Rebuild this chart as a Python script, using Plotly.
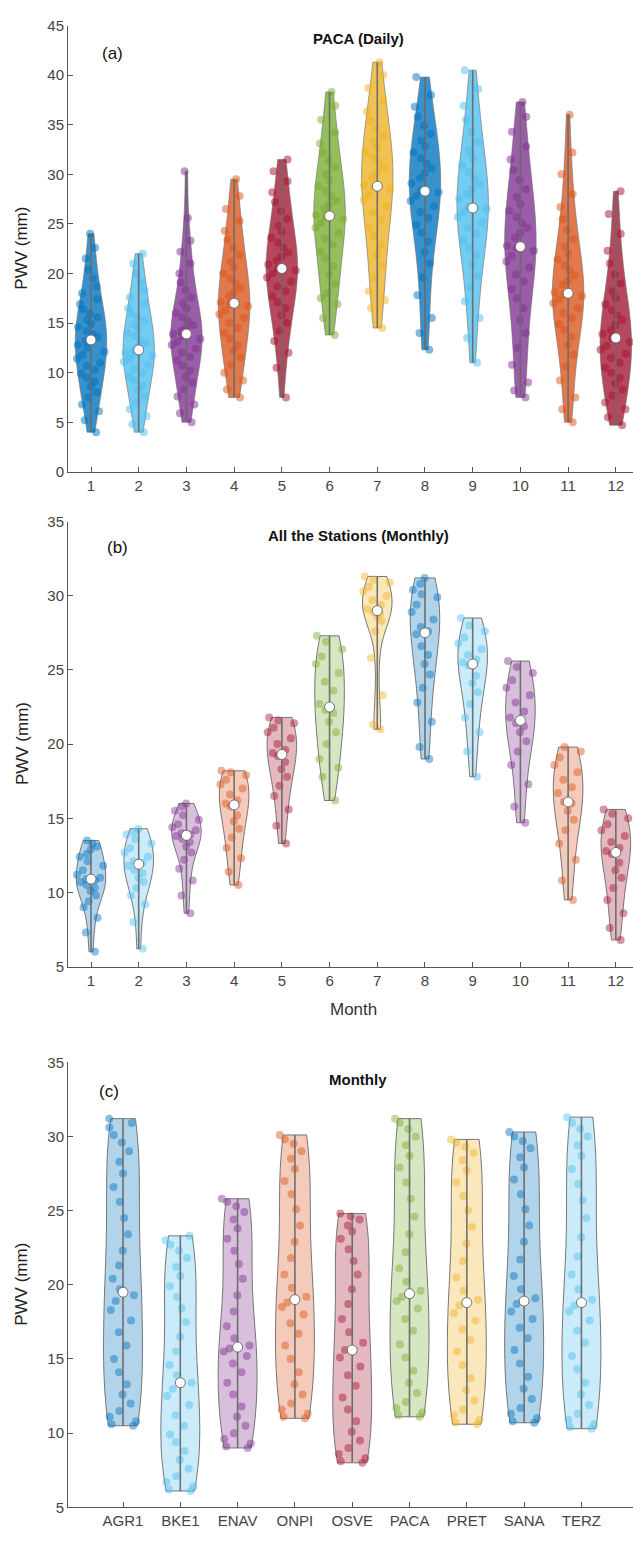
import numpy as np
import plotly.graph_objects as go

W, H = 633, 1544
ML = 68  # left margin in px

# ---------------- categories ----------------
months = list(range(1, 13))
month_labels = [str(m) for m in months]
stations = ["AGR1", "BKE1", "ENAV", "ONPI", "OSVE", "PACA", "PRET", "SANA", "TERZ"]
station_pos = list(range(1, 10))

# ---------------- panel (a): PACA daily PWV (mm) ----------------
daily_m01 = [4.0, 5.2, 6.1, 6.8, 7.5, 8.0, 8.6, 9.1, 9.5, 9.9, 10.3, 10.7, 11.0, 11.4, 11.8, 12.1, 12.5, 12.8, 13.2, 13.4,
             13.6, 13.9, 14.2, 14.6, 14.9, 15.3, 15.6, 16.0, 16.4, 16.9, 17.4, 18.0, 18.7, 19.5, 20.4, 21.5, 22.6, 24.0]
daily_m02 = [4.0, 4.8, 5.6, 6.3, 7.0, 7.6, 8.2, 8.7, 9.2, 9.6, 10.0, 10.4, 10.8, 11.1, 11.4, 11.7, 11.85, 12.0, 12.3,
             12.7, 13.0, 13.3, 13.7, 14.0, 14.4, 14.8, 15.2, 15.6, 16.0, 16.5, 17.0, 17.6, 18.3, 19.1, 20.0, 21.0, 22.0]
daily_m03 = [5.0, 5.9, 6.8, 7.6, 8.3, 9.0, 9.6, 10.2, 10.7, 11.2, 11.6, 12.0, 12.4, 12.8, 13.1, 13.4, 13.7, 13.9, 14.2,
             14.5, 14.8, 15.2, 15.6, 16.0, 16.5, 17.0, 17.6, 18.3, 19.1, 20.0, 21.0, 22.2, 23.3, 25.6, 30.3]
daily_m04 = [7.5, 8.3, 9.2, 10.0, 10.8, 11.5, 12.2, 12.8, 13.4, 14.0, 14.5, 15.0, 15.5, 15.9, 16.3, 16.7, 16.9, 17.1,
             17.7, 18.1, 18.5, 19.0, 19.5, 20.0, 20.6, 21.2, 21.9, 22.6, 23.4, 24.3, 25.3, 26.5, 27.8, 29.5]
daily_m05 = [7.5, 10.5, 12.0, 13.2, 14.2, 15.0, 15.8, 16.5, 17.1, 17.7, 18.2, 18.7, 19.2, 19.6, 20.0, 20.3, 20.5, 20.9,
             21.3, 21.7, 22.1, 22.6, 23.1, 23.6, 24.2, 24.8, 25.5, 26.3, 27.2, 28.2, 29.3, 30.3, 31.5]
daily_m06 = [13.8, 15.5, 16.9, 17.5, 18.0, 19.0, 19.9, 20.7, 21.5, 22.2, 22.9, 23.5, 24.1, 24.6, 25.1, 25.5, 25.7, 25.9,
             26.5, 26.9, 27.3, 27.8, 28.3, 28.8, 29.4, 30.0, 30.7, 31.4, 32.2, 33.1, 34.2, 35.5, 36.9, 38.3]
daily_m07 = [14.5, 16.5, 17.3, 18.2, 19.6, 20.8, 21.9, 22.9, 23.8, 24.6, 25.4, 26.1, 26.8, 27.4, 28.0, 28.5, 28.7, 28.9,
             29.7, 30.2, 30.7, 31.2, 31.7, 32.2, 32.7, 33.3, 33.9, 34.6, 35.4, 36.3, 37.4, 38.7, 40.0, 41.3]
daily_m08 = [12.3, 14.0, 15.5, 17.8, 19.6, 21.0, 22.2, 23.2, 24.1, 24.9, 25.6, 26.2, 26.8, 27.3, 27.8, 28.2, 28.4, 29.1,
             29.6, 30.1, 30.6, 31.1, 31.6, 32.2, 32.8, 33.4, 34.1, 34.9, 35.8, 36.8, 38.0, 39.8]
daily_m09 = [11.0, 13.5, 15.5, 17.2, 18.6, 19.8, 20.9, 21.8, 22.6, 23.3, 24.0, 24.6, 25.2, 25.7, 26.2, 26.5, 26.7, 27.5,
             28.0, 28.5, 29.0, 29.6, 30.2, 30.9, 31.6, 32.4, 33.3, 34.3, 35.5, 36.9, 38.6, 40.5]
daily_m10 = [7.5, 8.2, 9.0, 10.8, 12.5, 14.0, 15.3, 16.5, 17.5, 18.4, 19.2, 19.9, 20.6, 21.2, 21.8, 22.3, 22.6, 22.8,
             23.6, 24.1, 24.6, 25.1, 25.7, 26.3, 27.0, 27.7, 28.5, 29.4, 30.4, 31.5, 32.8, 34.3, 35.8, 37.3]
daily_m11 = [5.0, 6.3, 7.5, 9.2, 10.6, 11.8, 12.8, 13.6, 14.3, 14.9, 15.5, 16.0, 16.5, 17.0, 17.4, 17.7, 17.9, 18.1,
             18.9, 19.3, 19.8, 20.3, 20.8, 21.4, 22.0, 22.7, 23.5, 24.4, 25.5, 26.7, 28.0, 30.0, 32.2, 36.0]
daily_m12 = [4.7, 5.5, 6.3, 7.0, 7.7, 8.3, 8.9, 9.5, 10.0, 10.5, 11.0, 11.5, 11.9, 12.3, 12.7, 13.1, 13.5, 13.9, 14.3,
             14.8, 15.3, 15.8, 16.3, 16.9, 17.5, 18.2, 19.0, 19.9, 21.0, 22.3, 24.0, 26.0, 28.3]

# ---------------- panel (b): all stations, monthly PWV (mm) ----------------
monthly_m01 = [6.0, 7.3, 8.3, 9.0, 9.4, 9.8, 10.1, 10.3, 10.5, 10.7, 10.8, 10.9, 11.0, 11.2, 11.5, 11.8, 12.1, 12.4,
               12.6, 12.9, 13.1, 13.3, 13.5]
monthly_m02 = [6.2, 8.0, 9.2, 9.8, 10.3, 10.7, 11.0, 11.3, 11.5, 11.8, 12.0, 12.1, 12.4, 12.7, 13.0, 13.3, 13.6, 13.9,
               14.1, 14.3]
monthly_m03 = [8.6, 9.8, 10.8, 11.6, 12.2, 12.7, 13.1, 13.4, 13.6, 13.8, 13.9, 14.0, 14.2, 14.4, 14.6, 14.9, 15.2,
               15.5, 15.8, 16.0]
monthly_m04 = [10.5, 11.4, 12.3, 13.0, 13.7, 14.3, 14.8, 15.2, 15.8, 16.0, 16.2, 16.6, 17.0, 17.3, 17.6, 17.9, 18.1,
               18.2]
monthly_m05 = [13.3, 14.5, 15.6, 16.5, 17.2, 17.8, 18.3, 18.8, 19.2, 19.4, 19.6, 20.0, 20.4, 20.8, 21.1, 21.4, 21.6,
               21.8]
monthly_m06 = [16.2, 17.8, 18.4, 19.0, 20.0, 20.8, 21.5, 22.1, 22.3, 22.7, 23.6, 24.2, 24.8, 25.4, 25.9, 26.4, 26.9,
               27.3]
monthly_m07 = [21.0, 21.3, 23.3, 25.8, 27.6, 28.3, 28.6, 28.8, 28.9, 29.1, 29.4, 29.7, 30.0, 30.3, 30.6, 30.9, 31.1,
               31.3]
monthly_m08 = [19.0, 19.8, 21.5, 22.8, 23.8, 24.7, 25.4, 26.0, 26.6, 27.4, 27.6, 27.9, 28.4, 28.9, 29.4, 29.9, 30.1,
               30.4, 30.8, 31.2]
monthly_m09 = [17.8, 19.5, 20.8, 21.8, 22.7, 23.5, 24.1, 24.6, 25.3, 25.5, 25.7, 26.0, 26.4, 26.8, 27.2, 27.6, 28.0,
               28.5]
monthly_m10 = [14.7, 15.8, 17.3, 18.6, 19.5, 20.2, 20.8, 21.2, 21.4, 21.8, 22.2, 22.8, 23.3, 23.8, 24.3, 24.8, 25.2,
               25.6]
monthly_m11 = [9.5, 10.8, 12.2, 13.3, 14.2, 14.9, 15.5, 16.0, 16.1, 16.7, 17.1, 17.6, 18.1, 18.6, 19.1, 19.5, 19.8]
monthly_m12 = [6.8, 7.6, 8.6, 9.5, 10.3, 11.0, 11.5, 12.0, 12.6, 12.8, 13.0, 13.4, 13.8, 14.2, 14.6, 15.0, 15.3, 15.6]

# ---------------- panel (c): monthly PWV (mm) per station ----------------
st_agr1 = [10.5, 10.6, 10.8, 11.1, 11.5, 12.0, 12.6, 13.3, 14.1, 15.0, 15.9, 16.8, 17.6, 18.3, 18.9, 19.3, 19.7, 20.4,
           21.3, 22.3, 23.4, 24.5, 25.6, 26.6, 27.5, 28.3, 29.0, 29.6, 30.1, 30.6, 30.9, 31.2]
st_bke1 = [6.1, 6.2, 6.4, 6.7, 7.1, 7.6, 8.2, 8.8, 9.4, 9.9, 10.5, 11.2, 11.9, 12.5, 13.0, 13.4, 13.9, 14.6, 15.5,
           16.5, 17.5, 18.4, 19.2, 19.9, 20.6, 21.2, 21.8, 22.3, 22.7, 23.0, 23.3]
st_enav = [9.0, 9.1, 9.3, 9.6, 10.0, 10.5, 11.1, 11.8, 12.6, 13.4, 14.1, 14.7, 15.2, 15.5, 15.7, 15.9, 16.4, 17.2,
           18.2, 19.3, 20.4, 21.4, 22.3, 23.1, 23.8, 24.4, 24.9, 25.3, 25.6, 25.8]
st_onpi = [11.0, 11.1, 11.3, 11.6, 12.0, 12.6, 13.3, 14.1, 15.0, 15.9, 16.7, 17.4, 18.0, 18.5, 18.8, 19.2, 19.8, 20.7,
           21.8, 22.9, 24.0, 25.1, 26.1, 27.0, 27.8, 28.5, 29.0, 29.5, 29.8, 30.1]
st_osve = [8.0, 8.1, 8.3, 8.6, 9.0, 9.5, 10.1, 10.8, 11.6, 12.4, 13.2, 13.9, 14.5, 15.1, 15.6, 16.1, 16.8, 17.7,
           18.7, 19.7, 20.7, 21.6, 22.4, 23.1, 23.6, 24.0, 24.4, 24.6, 24.8]
st_paca = [11.1, 11.2, 11.4, 11.7, 12.1, 12.7, 13.4, 14.2, 15.1, 16.0, 16.9, 17.7, 18.4, 18.9, 19.2, 19.6, 20.2, 21.1,
           22.2, 23.4, 24.6, 25.8, 26.9, 27.9, 28.7, 29.4, 30.0, 30.5, 30.9, 31.2]
st_pret = [10.6, 10.7, 10.9, 11.2, 11.6, 12.2, 12.9, 13.7, 14.6, 15.5, 16.3, 17.0, 17.6, 18.1, 18.6, 19.0, 19.6, 20.5,
           21.6, 22.8, 23.9, 25.0, 26.0, 26.9, 27.7, 28.4, 28.9, 29.3, 29.6, 29.8]
st_sana = [10.7, 10.8, 11.0, 11.3, 11.7, 12.3, 13.0, 13.8, 14.7, 15.6, 16.4, 17.1, 17.7, 18.2, 18.7, 19.1, 19.7, 20.6,
           21.7, 22.9, 24.0, 25.1, 26.1, 27.1, 27.9, 28.6, 29.2, 29.7, 30.0, 30.3]
st_terz = [10.3, 10.4, 10.6, 10.9, 11.3, 11.9, 12.6, 13.4, 14.3, 15.2, 16.1, 16.9, 17.6, 18.2, 18.6, 19.0, 19.7, 20.7,
           21.9, 23.2, 24.5, 25.7, 26.8, 27.8, 28.7, 29.4, 30.0, 30.5, 30.9, 31.3]

daily = [daily_m01, daily_m02, daily_m03, daily_m04, daily_m05, daily_m06,
         daily_m07, daily_m08, daily_m09, daily_m10, daily_m11, daily_m12]
monthly = [monthly_m01, monthly_m02, monthly_m03, monthly_m04, monthly_m05, monthly_m06,
           monthly_m07, monthly_m08, monthly_m09, monthly_m10, monthly_m11, monthly_m12]
per_station = [st_agr1, st_bke1, st_enav, st_onpi, st_osve, st_paca, st_pret, st_sana, st_terz]

# ---------------- styling ----------------
palette = [(0, 114, 189), (77, 190, 238), (126, 47, 142), (217, 83, 25),
           (162, 20, 47), (119, 172, 48), (237, 177, 32)]


def rgba(c, a):
    return "rgba(%d,%d,%d,%.2f)" % (c[0], c[1], c[2], a)


FONT = "Liberation Sans, Arial, sans-serif"
AX_COL = "#555555"
TXT_COL = "#444444"

fig = go.Figure()


def px_to_paper_y(py):
    return 1 - py / H


def px_to_paper_x(px):
    return (px - ML) / (W - ML)


panels = [
    dict(data=daily, pos=months, xa="x", ya="y", width=0.66, fill_a=0.78, pt_a=0.5, pt_size=8, jit=1.0,
         line_col="rgba(110,110,110,0.6)", med_size=10),
    dict(data=monthly, pos=months, xa="x2", ya="y2", width=0.62, fill_a=0.30, pt_a=0.45, pt_size=8, jit=1.0,
         line_col="rgba(105,105,105,0.9)", med_size=10),
    dict(data=per_station, pos=station_pos, xa="x3", ya="y3", width=0.68, fill_a=0.30, pt_a=0.45, pt_size=8,
         jit=1.0, line_col="rgba(105,105,105,0.9)", med_size=10),
]

for p in panels:
    for i, vals in enumerate(p["data"]):
        c = palette[i % len(palette)]
        fig.add_trace(go.Violin(
            x=[p["pos"][i]] * len(vals), y=vals,
            xaxis=p["xa"], yaxis=p["ya"],
            width=p["width"], spanmode="hard",
            fillcolor=rgba(c, p["fill_a"]),
            line=dict(color=p["line_col"], width=1),
            points="all", pointpos=0, jitter=p["jit"],
            marker=dict(color=rgba(c, p["pt_a"]), size=p["pt_size"], line=dict(width=0)),
            box_visible=False, meanline_visible=False,
            showlegend=False, hoverinfo="skip",
        ))

for p in panels:
    wx, wy = [], []
    for i, vals in enumerate(p["data"]):
        wx += [p["pos"][i], p["pos"][i], None]
        wy += [min(vals), max(vals), None]
    fig.add_trace(go.Scatter(x=wx, y=wy, mode="lines", xaxis=p["xa"], yaxis=p["ya"],
                             line=dict(color="rgba(105,105,105,0.95)", width=1.6),
                             showlegend=False, hoverinfo="skip"))
    fig.add_trace(go.Scatter(x=p["pos"], y=[float(np.median(v)) for v in p["data"]],
                             mode="markers", xaxis=p["xa"], yaxis=p["ya"],
                             marker=dict(color="white", size=p["med_size"],
                                         line=dict(color="rgba(110,110,110,1)", width=1)),
                             showlegend=False, hoverinfo="skip"))

# panel pixel geometry (top, bottom)
geo = {"a": (16.7, 468.0), "b": (518.3, 968.3), "c": (1065.0, 1515.0)}

common_x = dict(showline=True, linecolor=AX_COL, linewidth=1, ticks="inside", ticklen=5, tickcolor=AX_COL,
                showgrid=False, zeroline=False, tickfont=dict(family=FONT, size=15, color=TXT_COL), domain=[0, 1])
common_y = dict(showline=True, linecolor=AX_COL, linewidth=1, ticks="inside", ticklen=5, tickcolor=AX_COL,
                showgrid=False, zeroline=False, tickfont=dict(family=FONT, size=15, color=TXT_COL), dtick=5)

fig.update_layout(
    width=W, height=H, margin=dict(l=ML, r=0, t=0, b=0),
    paper_bgcolor="white", plot_bgcolor="white",
    violinmode="overlay",
    xaxis=dict(common_x, anchor="y", range=[0.518, 12.36], tickvals=months, ticktext=month_labels),
    yaxis=dict(common_y, anchor="x", range=[0, 45],
               domain=[px_to_paper_y(geo["a"][1]), px_to_paper_y(geo["a"][0])]),
    xaxis2=dict(common_x, anchor="y2", range=[0.518, 12.36], tickvals=months, ticktext=month_labels),
    yaxis2=dict(common_y, anchor="x2", range=[5, 35],
                domain=[px_to_paper_y(geo["b"][1]), px_to_paper_y(geo["b"][0])]),
    xaxis3=dict(common_x, anchor="y3", range=[0.04, 9.90], tickvals=station_pos, ticktext=stations),
    yaxis3=dict(common_y, anchor="x3", range=[5, 35],
                domain=[px_to_paper_y(geo["c"][1]), px_to_paper_y(geo["c"][0])]),
)

ann = []
titles = [("PACA (Daily)", 30), ("All the Stations (Monthly)", 532), ("Monthly", 1082)]
for t, py in titles:
    ann.append(dict(text="<b>%s</b>" % t, x=px_to_paper_x(358), y=px_to_paper_y(py), xref="paper", yref="paper",
                    showarrow=False, xanchor="center", yanchor="middle",
                    font=dict(family=FONT, size=15, color="#111111")))
letters = [("(a)", 100, 45), ("(b)", 105, 545), ("(c)", 97, 1095)]
for t, px, py in letters:
    ann.append(dict(text=t, x=px_to_paper_x(px), y=px_to_paper_y(py), xref="paper", yref="paper",
                    showarrow=False, xanchor="left", yanchor="middle",
                    font=dict(family=FONT, size=17, color="#111111")))
for key in ["a", "b", "c"]:
    top, bot = geo[key]
    ann.append(dict(text="PWV (mm)", x=px_to_paper_x(22), y=px_to_paper_y((top + bot) / 2),
                    xref="paper", yref="paper", showarrow=False, textangle=-90,
                    xanchor="center", yanchor="middle",
                    font=dict(family=FONT, size=17, color="#222222")))
ann.append(dict(text="Month", x=px_to_paper_x(353), y=px_to_paper_y(1012), xref="paper", yref="paper",
                showarrow=False, xanchor="center", yanchor="middle",
                font=dict(family=FONT, size=17, color="#333333")))
fig.update_layout(annotations=ann)

fig.write_html("out.html")
